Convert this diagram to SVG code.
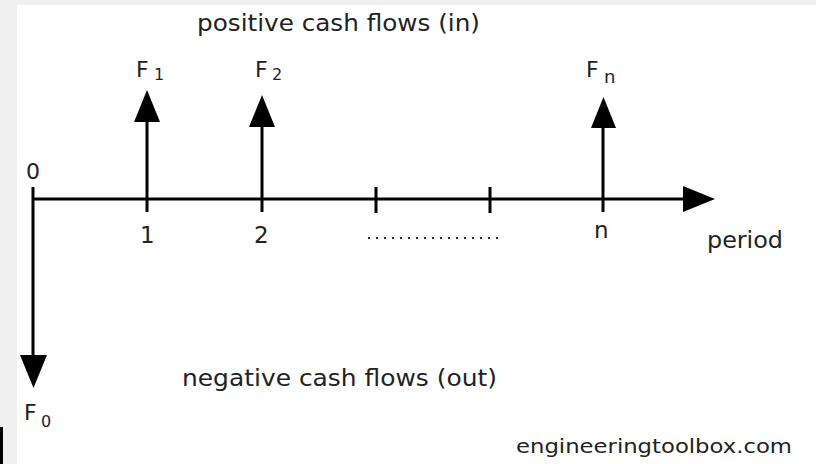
<svg xmlns="http://www.w3.org/2000/svg" width="816" height="464" viewBox="0 0 816 464">
<style>
.t{font-family:"DejaVu Sans","Liberation Sans",sans-serif;fill:#222}
.f{font-size:22px}
.s{font-size:16px}
.ln{stroke:#000;stroke-width:3;fill:none}
.hd{fill:#000}
</style>
<rect x="0" y="0" width="816" height="464" fill="#f0f0f0"/>
<rect x="17" y="5" width="799" height="459" fill="#fff"/>
<rect x="0" y="427" width="3" height="37" fill="#000"/>
<g id="axis">
<line class="ln" x1="33" y1="199" x2="685" y2="199"/>
<polygon class="hd" points="683,186 715,199 683,212"/>
<line class="ln" x1="147" y1="199" x2="147" y2="212"/>
<line class="ln" x1="262" y1="199" x2="262" y2="212"/>
<line class="ln" x1="376" y1="187" x2="376" y2="213"/>
<line class="ln" x1="490" y1="187" x2="490" y2="213"/>
<line class="ln" x1="603" y1="199" x2="603" y2="212"/>
<line x1="368" y1="238" x2="498" y2="238" stroke="#222" stroke-width="2" stroke-dasharray="2 6"/>
</g>
<g id="connectors">
<line class="ln" x1="33" y1="187" x2="33" y2="357"/>
<polygon class="hd" points="20,355 47,355 33.5,388"/>
<line class="ln" x1="147" y1="199" x2="147" y2="118"/>
<polygon class="hd" points="134,122 160,122 147,90"/>
<line class="ln" x1="262" y1="199" x2="262" y2="123"/>
<polygon class="hd" points="249,127 275,127 262,95"/>
<line class="ln" x1="603" y1="199" x2="603" y2="124"/>
<polygon class="hd" points="591,128 616,128 603.5,97"/>
</g>
<g id="labels">
<text class="t" x="197" y="31" font-size="23" textLength="283" lengthAdjust="spacingAndGlyphs">positive cash flows (in)</text>
<text class="t" x="182" y="386" font-size="23" textLength="315" lengthAdjust="spacingAndGlyphs">negative cash flows (out)</text>
<text class="t" x="707" y="248" font-size="23" textLength="76" lengthAdjust="spacingAndGlyphs">period</text>
<text class="t" x="516" y="453" font-size="20" textLength="276" lengthAdjust="spacingAndGlyphs">engineeringtoolbox.com</text>
<text class="t" x="26" y="179" font-size="22">0</text>
<text class="t" x="140" y="243" font-size="23">1</text>
<text class="t" x="254" y="243" font-size="23">2</text>
<text class="t" x="594" y="238" font-size="23">n</text>
<g id="F1"><text class="t f" x="136" y="77">F</text><text class="t s" x="154" y="80">1</text></g>
<g id="F2"><text class="t f" x="255" y="77">F</text><text class="t s" x="272" y="80">2</text></g>
<g id="Fn"><text class="t f" x="586" y="77">F</text><text class="t" x="604" y="83" font-size="18">n</text></g>
<g id="F0"><text class="t f" x="24" y="420">F</text><text class="t s" x="41" y="427">0</text></g>
</g>
</svg>
